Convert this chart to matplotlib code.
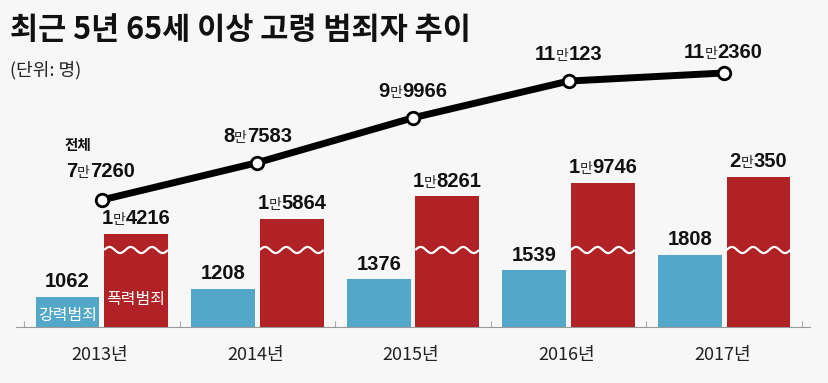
import numpy as np
import matplotlib
matplotlib.use('Agg')
import matplotlib.pyplot as plt
from matplotlib.offsetbox import TextArea, HPacker, AnnotationBbox

# data
years = ['2013년', '2014년', '2015년', '2016년', '2017년']
violent = [1062, 1208, 1376, 1539, 1808]          # 강력범죄
assault = [14216, 15864, 18261, 19746, 20350]     # 폭력범죄
total = [77260, 87583, 99966, 110123, 112360]     # 전체

KR = ['Noto Sans CJK KR', 'DejaVu Sans']
NUM = ['Liberation Sans Narrow', 'Liberation Sans', 'Noto Sans CJK KR']

bg = '#f7f7f7'
blue = '#53a7c9'
red = '#b02226'

W, H = 829, 383
fig = plt.figure(figsize=(W / 100, H / 100), dpi=100, facecolor=bg)

# axes in pixel geometry: baseline at y=327, top at y=40
left, right, bottom, top = 24, 802, 327, 40
rect = [left / W, (H - bottom) / H, (right - left) / W, (bottom - top) / H]
ax = fig.add_axes(rect)
ax_r = ax.twinx()
ax_l = ax.twinx()
for a in (ax, ax_r, ax_l):
    a.set_facecolor('none')
    a.set_xlim(-0.5, 4.5)
    for s in a.spines.values():
        s.set_visible(False)
    a.set_yticks([])

# each series has its own (broken) scale, like the infographic
ax.set_ylim(530, 5628)
ax_r.set_ylim(4200, 35093)
ax_l.set_ylim(42150, 121476)

x = np.arange(len(years))
off, bw = 0.22, 0.41
ax.bar(x - off, violent, width=bw, color=blue, zorder=2)
ax_r.bar(x + off, assault, width=bw, color=red, zorder=2)

# wavy break on red bars
for xi in x:
    xs = np.linspace(xi + off - bw / 2, xi + off + bw / 2, 80)
    ys = 12490 + 330 * np.sin((xs - (xi + off - bw / 2)) / bw * 2 * np.pi * 3)
    ax_r.plot(xs, ys, color='white', lw=1.6, zorder=3, solid_capstyle='butt')

# total line
ax_l.plot(x, total, color='black', lw=5, zorder=4, solid_capstyle='round')
ax_l.plot(x, total, 'o', ms=9, mfc='white', mec='black', mew=2, zorder=5)

# baseline and group ticks
ax.axhline(530, color='#999999', lw=0.8, xmin=-0.01, xmax=1.01, clip_on=False)
ax.set_xticks(np.arange(-0.5, 5, 1))
ax.tick_params(axis='x', direction='in', length=4, color='#aaaaaa', width=0.8,
               labelbottom=False)


def man_label(value):
    """split a value into parts like 1만4216"""
    hi, lo = divmod(value, 10000)
    if hi == 0:
        return [(str(value), True)]
    return [(str(hi), True), ('만', False), (str(lo), True)]


def put_value(axis, xv, yv, value, dy=4, dx=0, ha=0.5):
    parts = []
    for txt, big in man_label(value):
        if big:
            props = dict(family=NUM, size=14.5, weight='bold', color='#111111')
        else:
            props = dict(family=KR, size=10, color='#222222')
        parts.append(TextArea(txt, textprops=props))
    box = HPacker(children=parts, align='baseline', pad=0, sep=0)
    ab = AnnotationBbox(box, (xv, yv), xybox=(dx, dy), xycoords='data',
                        boxcoords='offset points', box_alignment=(ha, 0),
                        frameon=False, pad=0, annotation_clip=False)
    axis.add_artist(ab)


for i in range(len(years)):
    put_value(ax, x[i] - off, violent[i], violent[i])
    put_value(ax_r, x[i] + off, assault[i], assault[i])

# line labels
line_off = [(-26, 14, 0), (0, 12, 0.5), (0, 12, 0.5), (0, 12, 0.5), (-1, 8, 0.5)]
for i in range(len(years)):
    dx, dy, ha = line_off[i]
    put_value(ax_l, x[i], total[i], total[i], dy=dy, dx=dx, ha=ha)
ax_l.annotate('전체', (x[0], total[0]), xytext=(-27, 34), textcoords='offset points',
              fontsize=10.5, fontweight='bold', family=KR, ha='left', va='bottom',
              color='#111111')

# legend inside the first bars
ax.text(x[0] - off, 590, '강력범죄', family=KR, fontsize=11.5, color='white',
        ha='center', va='bottom', zorder=6)
ax_r.text(x[0] + off, 4200 + 2000, '폭력범죄', family=KR, fontsize=11.5, color='white',
          ha='center', va='bottom', zorder=6)

# year labels
for i, y in enumerate(years):
    fig.text((left + (right - left) * (i + 0.5) / 5 - 2) / W, 1 - 355 / H, y,
             family=['Liberation Sans Narrow', 'Noto Sans CJK KR'], fontsize=13,
             ha='center', va='center', color='#222222')

# titles
fig.text(10 / W, 1 - 30 / H, '최근 5년 65세 이상 고령 범죄자 추이', family=KR,
         fontsize=22, fontweight='bold', ha='left', va='center', color='#111111')
fig.text(10 / W, 1 - 70 / H, '(단위: 명)', family=KR, fontsize=13,
         ha='left', va='center', color='#222222')

fig.savefig('out.png', dpi=100, facecolor=bg)
